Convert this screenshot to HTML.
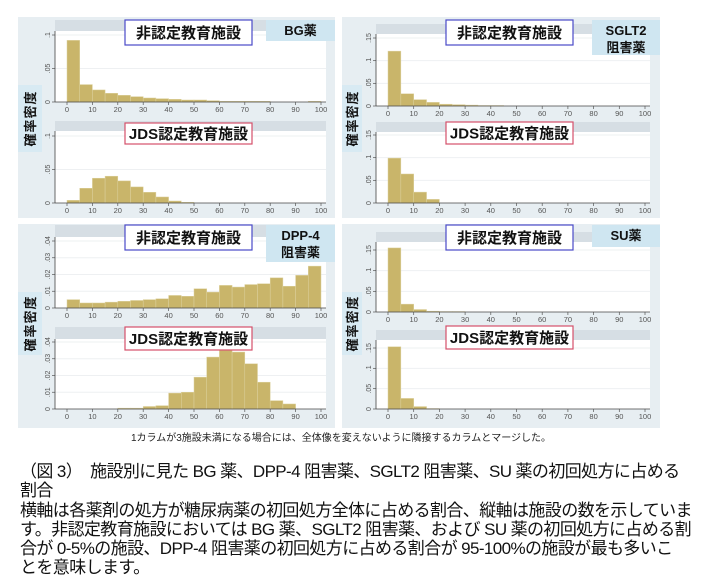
<!DOCTYPE html>
<html><head><meta charset="utf-8">
<style>
body{margin:0;background:#fff;width:718px;height:582px;overflow:hidden;font-family:"Liberation Sans","Noto Sans CJK JP",sans-serif;}
#cap{position:absolute;left:20px;top:462px;width:700px;font-size:17px;line-height:19.3px;color:#111;letter-spacing:-0.6px;white-space:nowrap;}
#note{position:absolute;left:0;width:682px;top:429px;text-align:center;font-size:10px;color:#222;}
</style></head><body>
<svg id="chart" width="718" height="430" style="position:absolute;left:0;top:0" xmlns="http://www.w3.org/2000/svg"></svg>
<div id="note">1カラムが3施設未満になる場合には、全体像を変えないように隣接するカラムとマージした。</div>
<div id="cap">（図 3）　施設別に見た BG 薬、DPP-4 阻害薬、SGLT2 阻害薬、SU 薬の初回処方に占める<br>割合<br>横軸は各薬剤の処方が糖尿病薬の初回処方全体に占める割合、縦軸は施設の数を示していま<br>す。非認定教育施設においては BG 薬、SGLT2 阻害薬、および SU 薬の初回処方に占める割<br>合が 0-5%の施設、DPP-4 阻害薬の初回処方に占める割合が 95-100%の施設が最も多いこ<br>とを意味します。</div>
<script>
const xTicks=[0,10,20,30,40,50,60,70,80,90,100];
const binEdges=[0,5,10,15,20,25,30,35,40,45,50,55,60,65,70,75,80,85,90,95];
const bgNon=[0.092,0.026,0.018,0.013,0.010,0.008,0.006,0.005,0.004,0.003,0.003,0.002,0.001,0.001,0.001,0.001,0,0,0,0.001];
const bgJds=[0.004,0.022,0.037,0.040,0.033,0.024,0.016,0.009,0.003,0.001,0,0,0,0,0,0,0,0,0,0];
const sgltNon=[0.121,0.027,0.014,0.008,0.004,0.003,0.002,0.001,0.001,0,0,0,0,0,0,0,0,0,0,0];
const sgltJds=[0.099,0.064,0.024,0.008,0,0,0,0,0,0,0,0,0,0,0,0,0,0,0,0];
const dppNon=[0.005,0.003,0.003,0.0035,0.004,0.0045,0.005,0.0055,0.0075,0.007,0.0115,0.0095,0.0135,0.0125,0.014,0.0145,0.018,0.013,0.0195,0.025];
const dppJds=[0,0,0,0,0.0005,0.0005,0.0015,0.002,0.0095,0.010,0.019,0.031,0.035,0.034,0.027,0.016,0.005,0.003,0,0];
const suNon=[0.155,0.019,0.006,0.002,0.001,0.001,0,0,0,0,0,0,0,0,0,0,0,0,0,0];
const suJds=[0.153,0.026,0.006,0.001,0,0,0,0,0,0,0,0,0,0,0,0,0,0,0,0];
const yTicksBG=[0,0.05,0.1], yLabBG=["0",".05",".1"];
const yTicksS=[0,0.05,0.1,0.15], yLabS=["0",".05",".1",".15"];
const yTicksD=[0,0.01,0.02,0.03,0.04], yLabD=["0",".01",".02",".03",".04"];

const svg=document.getElementById('chart');
const NS="http://www.w3.org/2000/svg";
function mk(tag,attrs,parent){const e=document.createElementNS(NS,tag);for(const k in attrs)e.setAttribute(k,attrs[k]);(parent||svg).appendChild(e);return e;}

function panel(p){
  const g=mk('g',{});
  
  
  mk('rect',{x:p.px,y:p.py,width:p.pw,height:p.ph,fill:'#e7eef2'},g);
  mk('rect',{x:p.ytx,y:p.yty,width:p.ytw,height:p.yth,fill:'#d8eaf3'},g);
  const ylab=mk('text',{x:0,y:0,transform:`translate(${p.ytx+p.ytw/2+5},${p.yty+p.yth/2}) rotate(-90)`,'text-anchor':'middle','font-size':13,'font-weight':'bold',fill:'#111','letter-spacing':'1'},g);
  ylab.textContent='確率密度';
  
  
  p.subs.forEach((s,si)=>{
    const sg=mk('g',{},g);
    
    
    const left=p.x0-12,right=p.x1+5;
    mk('rect',{x:left,y:s.hy,width:right-left,height:s.hh,fill:'#d6dee4'},sg);
    mk('rect',{x:left,y:s.hy+s.hh,width:right-left,height:s.base-s.hy-s.hh,fill:'#fff'},sg);
    const xs=v=>p.x0+(p.x1-p.x0)*v/100;
    const ys=v=>s.base-(s.base-s.top)*v/s.ymax;
    s.ticks.forEach((t,i)=>{
      const y=ys(t);
      if(t>0) mk('line',{x1:left,x2:right,y1:y,y2:y,stroke:'#eef0f2','stroke-width':1},sg);
      mk('line',{x1:left-3,x2:left,y1:y,y2:y,stroke:'#555','stroke-width':0.7},sg);
      const tl=mk('text',{x:0,y:0,transform:`translate(${left-5},${y}) rotate(-90)`,'text-anchor':'middle','font-size':7,fill:'#555'},sg);
      tl.textContent=s.labs[i];
      
      
    });
    s.data.forEach((v,i)=>{
      if(v<=0) return;
      const b=mk('rect',{x:xs(binEdges[i]),y:ys(v),width:xs(binEdges[i]+5)-xs(binEdges[i]),height:s.base-ys(v),fill:'#c9b56a',stroke:'#ddd2a0','stroke-width':0.5},sg);
      
      
    });
    mk('line',{x1:left,x2:right,y1:s.base,y2:s.base,stroke:'#444','stroke-width':0.8},sg);
    mk('line',{x1:left,x2:left,y1:s.hy+s.hh,y2:s.base,stroke:'#444','stroke-width':0.8},sg);
    xTicks.forEach(t=>{
      mk('line',{x1:xs(t),x2:xs(t),y1:s.base,y2:s.base+3,stroke:'#555','stroke-width':0.7},sg);
      const tl=mk('text',{x:xs(t),y:s.base+10,'text-anchor':'middle','font-size':7.5,fill:'#555'},sg);
      tl.textContent=t;
      
      
    });
    const bx=p.x0+58, bw=127;
    mk('rect',{x:bx,y:s.by,width:bw,height:s.bh,fill:'#fff',stroke:si?'#d4506a':'#4a4ac8','stroke-width':1.2},sg);
    const tt=mk('text',{x:bx+bw/2,y:s.by+s.bh/2+5.5,'text-anchor':'middle','font-size':15,'font-weight':'bold',fill:'#111'},sg);
    tt.textContent=si?'JDS認定教育施設':'非認定教育施設';
    
    
  });
  mk('rect',{x:p.dx,y:p.dy,width:p.dw,height:p.dh,fill:'#cfe6f1'},g);
  p.drug.forEach((line,i)=>{
    const t=mk('text',{x:p.dx+p.dw/2,y:p.dy+15+i*17,'text-anchor':'middle','font-size':13,'font-weight':'bold',fill:'#111'},g);
    t.textContent=line;
    
    
  });
}

panel({name:'bg',px:18,py:17,pw:317,ph:201,ytx:18,yty:85,ytw:24,yth:67,x0:67,x1:321,
  dx:266,dy:20,dw:69,dh:21,drug:['BG薬'],
  subs:[{hy:20,hh:11,base:102,top:35,ymax:0.1,ticks:yTicksBG,labs:yLabBG,data:bgNon,by:20,bh:25},
        {hy:121,hh:10,base:203,top:136,ymax:0.1,ticks:yTicksBG,labs:yLabBG,data:bgJds,by:123,bh:21}]});
panel({name:'sglt2',px:342,py:17,pw:318,ph:201,ytx:342,yty:85,ytw:20,yth:67,x0:388,x1:645,
  dx:592,dy:20,dw:68,dh:35,drug:['SGLT2','阻害薬'],
  subs:[{hy:24,hh:10,base:106,top:38,ymax:0.15,ticks:yTicksS,labs:yLabS,data:sgltNon,by:20,bh:25},
        {hy:122,hh:10,base:203,top:135,ymax:0.15,ticks:yTicksS,labs:yLabS,data:sgltJds,by:122,bh:22}]});
panel({name:'dpp4',px:18,py:224,pw:317,ph:204,ytx:18,yty:292,ytw:24,yth:63,x0:67,x1:321,
  dx:266,dy:225,dw:69,dh:37,drug:['DPP-4','阻害薬'],
  subs:[{hy:225,hh:12,base:308,top:241,ymax:0.04,ticks:yTicksD,labs:yLabD,data:dppNon,by:225,bh:25},
        {hy:327,hh:12,base:409,top:342,ymax:0.04,ticks:yTicksD,labs:yLabD,data:dppJds,by:327,bh:23}]});
panel({name:'su',px:342,py:224,pw:318,ph:204,ytx:342,yty:292,ytw:20,yth:63,x0:388,x1:645,
  dx:592,dy:225,dw:68,dh:22,drug:['SU薬'],
  subs:[{hy:232,hh:10,base:312,top:250,ymax:0.15,ticks:yTicksS,labs:yLabS,data:suNon,by:225,bh:25},
        {hy:330,hh:10,base:409,top:348,ymax:0.15,ticks:yTicksS,labs:yLabS,data:suJds,by:326,bh:23}]});
</script>
</body></html>
